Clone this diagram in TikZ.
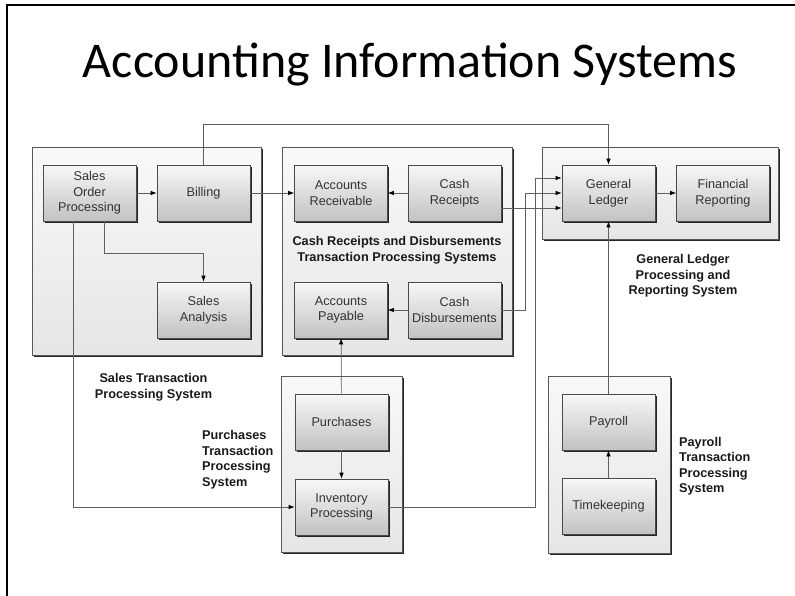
\documentclass[tikz,border=0pt]{standalone}
\usepackage{fontspec}
\setmainfont{Liberation Sans}
\newfontfamily\titlefont{Carlito}
\usetikzlibrary{arrows.meta}
\definecolor{linegray}{HTML}{606060}
\definecolor{boxborder}{HTML}{4A4A4A}
\tikzset{
  procbox/.style={draw=boxborder, line width=0.7pt, top color=gray!6, bottom color=gray!48,
    minimum width=93pt, minimum height=56pt, inner sep=1pt, align=center,
    font=\fontsize{12.7}{15.5}\selectfont, text=black!80,
    preaction={fill=black!85, transform canvas={shift={(1.6pt,-1.6pt)}}}},
  groupbox/.style={draw=gray!70!black, line width=0.7pt, top color=gray!5, bottom color=gray!20,
    inner sep=0pt,
    preaction={fill=black!85, transform canvas={shift={(2pt,-2pt)}}}},
  grouplabel/.style={font=\bfseries\fontsize{12.7}{15.5}\selectfont, text=black!90, inner sep=0pt},
  conn/.style={draw=linegray, line width=0.7pt},
  arr/.style={conn, -{Latex[length=6pt,width=4.5pt,color=black]}},
}
\begin{document}
\begin{tikzpicture}[x=1pt,y=-1pt]
\useasboundingbox (0,0) rectangle (795,596);
% slide frame
\draw[line width=2pt] (7,600) -- (7,5) -- (800,5);
\node[anchor=base, inner sep=0pt, font=\titlefont\fontsize{50}{52}\selectfont] (title) at (410,78) {Accounting Information Systems};

% group boxes
\node[groupbox, minimum width=229pt, minimum height=208pt] (salesg) at (146.5,251) {};
\node[groupbox, minimum width=230pt, minimum height=208pt] (cashg) at (397,251) {};
\node[groupbox, minimum width=236pt, minimum height=92pt] (glg) at (660,193) {};
\node[groupbox, minimum width=121pt, minimum height=176pt] (purg) at (341.5,464) {};
\node[groupbox, minimum width=122pt, minimum height=177pt] (payg) at (609,464.5) {};

% group labels
\node[grouplabel, align=center] (saleslbl) at (153.5,387) {Sales Transaction\\Processing System};
\node[grouplabel, align=center] (cashlbl) at (397,250) {Cash Receipts and Disbursements\\Transaction Processing Systems};
\node[grouplabel, align=center] (gllbl) at (683,276) {General Ledger\\Processing and\\Reporting System};
\node[grouplabel, align=left, anchor=west] (purlbl) at (202,459.5) {Purchases\\Transaction\\Processing\\System};
\node[grouplabel, align=left, anchor=west] (paylbl) at (679,466) {Payroll\\Transaction\\Processing\\System};

% process boxes
\node[procbox] (sop) at (89.5,193) {Sales\\Order\\Processing};
\node[procbox] (billing) at (203.5,193) {Billing};
\node[procbox] (sa) at (203.5,310) {Sales\\Analysis};
\node[procbox] (ar) at (341,193) {Accounts\\Receivable};
\node[procbox] (cr) at (454.5,193) {Cash\\Receipts};
\node[procbox] (ap) at (341,310) {Accounts\\Payable};
\node[procbox] (cd) at (454.5,310) {Cash\\Disbursements};
\node[procbox] (gl) at (608.5,193) {General\\Ledger};
\node[procbox] (fr) at (723,193) {Financial\\Reporting};
\node[procbox] (pur) at (341.5,422) {Purchases};
\node[procbox] (ip) at (341.5,507) {Inventory\\Processing};
\node[procbox] (pay) at (608.5,422) {Payroll};
\node[procbox] (tk) at (608.5,506.5) {Timekeeping};

% connectors
\draw[arr] (sop) -- (billing);
\draw[arr] ([xshift=14.5pt]sop.south) -- ++(0,32) -| (sa.north);
\draw[arr] ([xshift=-16.5pt]sop.south) |- (ip.west);
\draw[arr] (billing) -- (ar);
\draw[arr] (billing.north) -- ++(0,-40) -| (gl.north);
\draw[arr] (cr) -- (ar);
\draw[arr] ([yshift=-15pt]cr.east) -- ([yshift=-15pt]gl.west);
\draw[arr] (cd) -- (ap);
\draw[arr] (cd.east) -- ++(24,0) |- (gl.west);
\draw[arr] (ip.east) -- ++(147,0) |- ([yshift=15pt]gl.west);
\draw[arr] (gl) -- (fr);
\draw[arr] (pur) -- (ap);
\draw[arr] (pur) -- (ip);
\draw[arr] (pay) -- (gl);
\draw[arr] (tk) -- (pay);
\end{tikzpicture}
\end{document}
